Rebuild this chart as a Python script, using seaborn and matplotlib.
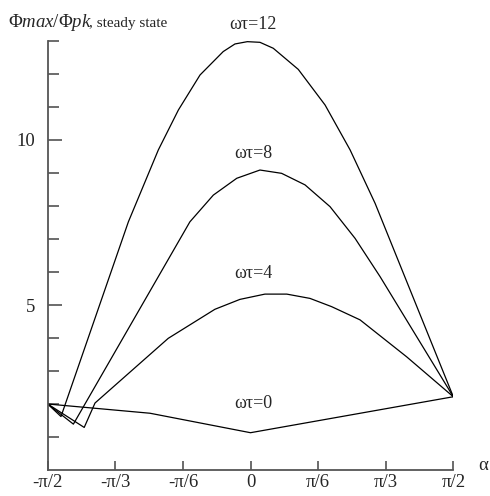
import numpy as np
import pandas as pd
import matplotlib
matplotlib.use("Agg")
import matplotlib.pyplot as plt
import matplotlib.ticker as mtick
import seaborn as sns

# angles in degrees
alpha_wt0 = [-90, -44.6, 0, 90]
phi_wt0 = [2.0, 1.72, 1.13, 2.22]

alpha_wt4 = [-90, -73.8, -69, -36.5, -15.8, -4.7, 6.4, 16.1, 26.4, 36, 48.6, 69.3, 90]
phi_wt4 = [2.0, 1.29, 2.03, 3.99, 4.87, 5.17, 5.33, 5.33, 5.20, 4.95, 4.55, 3.43, 2.22]

alpha_wt8 = [-90, -78.6, -26.9, -16.5, -6.1, 4.2, 13.8, 24.2, 35.3, 46.4, 57.5, 90]
phi_wt8 = [2.0, 1.39, 7.52, 8.33, 8.84, 9.09, 8.99, 8.64, 7.98, 7.02, 5.86, 2.22]

alpha_wt12 = [-90, -84.1, -54.2, -40.9, -32, -22.4, -12.1, -6.9, -1.4, 4.2, 10.1, 21.2, 33.1, 44.2, 55.3, 90]
phi_wt12 = [2.0, 1.62, 7.52, 9.70, 10.91, 11.97, 12.68, 12.91, 12.98, 12.96, 12.78, 12.14, 11.06, 9.70, 8.08, 2.22]

curve_names = ["ωτ=0", "ωτ=4", "ωτ=8", "ωτ=12"]
label_y = [2.0, 5.94, 9.6, 13.5]

x_ticks = [-np.pi / 2, -np.pi / 3, -np.pi / 6, 0, np.pi / 6, np.pi / 3, np.pi / 2]
x_ticklabels = ["-π/2", "-π/3", "-π/6", "0", "π/6", "π/3", "π/2"]

# Build long table
frames = []
for name, a, p in zip(curve_names,
                      [alpha_wt0, alpha_wt4, alpha_wt8, alpha_wt12],
                      [phi_wt0, phi_wt4, phi_wt8, phi_wt12]):
    frames.append(pd.DataFrame({"alpha": np.radians(a), "phi": p, "curve": name}))
df = pd.concat(frames, ignore_index=True)

sns.set_style("white")
plt.rcParams['font.family'] = ['Liberation Serif', 'DejaVu Serif']
plt.rcParams['mathtext.fontset'] = 'custom'
plt.rcParams['mathtext.rm'] = 'Liberation Serif'
plt.rcParams['mathtext.it'] = 'Liberation Serif:italic'

fig = plt.figure(figsize=(4.9, 4.96), dpi=100)
ax = fig.add_axes([47.7 / 490, 26 / 496, (453.3 - 47.7) / 490, (470 - 41) / 496])

sns.lineplot(
    data=df, x="alpha", y="phi", hue="curve",
    palette={n: "black" for n in curve_names},
    estimator=None, sort=False, legend=False,
    linewidth=0.9, ax=ax
)

ax.set_xlim(-np.pi / 2, np.pi / 2)
ax.set_ylim(0, 13)
ax.set_xlabel("")
ax.set_ylabel("")

# Spines
for side in ["top", "right"]:
    ax.spines[side].set_visible(False)
for side in ["left", "bottom"]:
    ax.spines[side].set_color("#555555")
    ax.spines[side].set_linewidth(1.3)

# Ticks
ax.set_xticks(x_ticks)
ax.set_xticklabels(x_ticklabels)
ax.xaxis.set_minor_locator(mtick.FixedLocator([0]))
ax.set_yticks([5, 10])
ax.yaxis.set_minor_locator(mtick.FixedLocator([1, 2, 3, 4, 6, 7, 8, 9, 11, 12, 13]))
ax.tick_params(which="both", bottom=True, left=True, top=False, right=False)
ax.tick_params(axis="x", which="major", direction="in", length=6.5, width=1.1,
               color="#444444", labelsize=13.5, pad=3)
ax.tick_params(axis="x", which="minor", direction="in", length=9.5, width=1.1,
               color="#444444")
ax.tick_params(axis="y", which="major", direction="in", length=10, width=1.1,
               color="#444444", labelsize=13.5, pad=9)
ax.tick_params(axis="y", which="minor", direction="in", length=8, width=1.1,
               color="#444444")
for t in (ax.xaxis.get_major_ticks() + ax.xaxis.get_minor_ticks()
          + ax.yaxis.get_major_ticks() + ax.yaxis.get_minor_ticks()):
    t.tick1line.set_clip_on(False)

# Curve labels
for name, yy in zip(curve_names, label_y):
    ax.text(0.02, yy, name, ha="center", va="center", fontsize=13, clip_on=False)

# Axis label alpha
ax.text(1.80, 0.15, "α", ha="center", va="center", fontsize=13.5, clip_on=False)

# Title
t1 = fig.text(8 / 490, 1 - 27 / 496, r"$\mathrm{Φ}\mathit{max}/\mathrm{Φ}\mathit{pk}$",
              fontsize=13.5, ha="left", va="baseline")
fig.canvas.draw()
r = fig.canvas.get_renderer()
bb = t1.get_window_extent(r)
fig.text((bb.x1 - 3) / 490, 1 - 27 / 496, ", steady state",
         fontsize=11, ha="left", va="baseline")

plt.savefig("out.png", dpi=100)
plt.close()
